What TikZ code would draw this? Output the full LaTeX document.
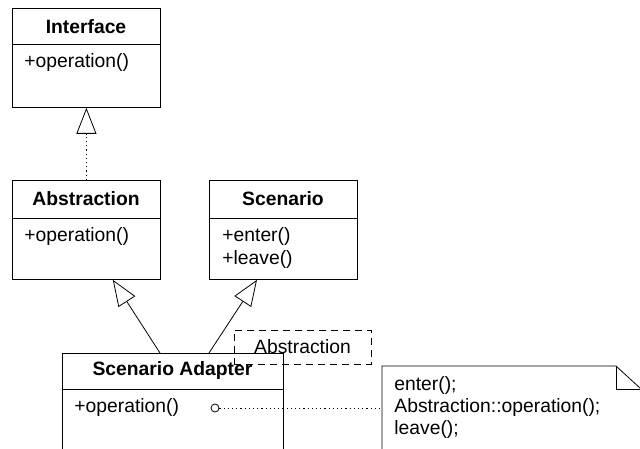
\documentclass[tikz,border=0pt]{standalone}
\usepackage{fontspec}
\setmainfont{Liberation Sans}
\usetikzlibrary{arrows.meta}
\begin{document}
\begin{tikzpicture}[x=1pt,y=-1pt, line width=0.8pt,
  box/.style={draw, inner sep=0pt, anchor=north west},
  ttl/.style={font=\fontsize{19.3}{23}\selectfont\bfseries, inner sep=0pt},
  mem/.style={font=\fontsize{19.3}{23}\selectfont, inner sep=0pt, anchor=west},
  gen/.style={-{Triangle[open,length=26pt,width=20pt]}},
  dots/.style={dash pattern=on 1.2pt off 3pt},
  param/.style={draw, dash pattern=on 7pt off 5pt, inner sep=0pt,
    minimum width=137pt, minimum height=34pt, font=\fontsize{19.3}{23}\selectfont}]
\useasboundingbox (0,0) rectangle (640,449);
\clip (0,0) rectangle (640,449);
% Interface
\node[box, minimum width=148pt, minimum height=99pt] (iface) at (12,8) {};
\draw (12,44) -- (160,44);
\node[ttl] (ifacet) at (86,27) {Interface};
\node[mem] (ifacem) at (24,63) {+operation()};
% Abstraction
\node[box, minimum width=148pt, minimum height=99pt] (abs) at (12,180) {};
\draw (12,218) -- (160,218);
\node[ttl] (abst) at (86,199) {Abstraction};
\node[mem] (absm) at (24,237) {+operation()};
% Scenario
\node[box, minimum width=148pt, minimum height=99pt] (scen) at (209,180) {};
\draw (209,218) -- (357,218);
\node[ttl] (scent) at (283,199) {Scenario};
\node[mem] (scenm1) at (222,237) {+enter()};
\node[mem] (scenm2) at (222,260) {+leave()};
% Scenario Adapter
\node[box, minimum width=221pt, minimum height=130pt] (adapt) at (62,353) {};
\draw (62,389) -- (283,389);
\node[ttl] (adaptt) at (172.5,371) {Scenario Adapter};
\node[mem] (adaptm) at (74,408) {+operation()};
\node[circle, draw, minimum size=8pt, inner sep=0pt] (dot) at (215,408) {};
% template parameter
\node[param] (tparam) at (302.5,347) {Abstraction};
% note
\draw (382,470) -- (382,366) -- (616,366) -- (641,389) -- (641,470);
\draw (616,366) -- (616,389) -- (641,389);
\coordinate (noteW) at (382,408);
\node[mem] (n1) at (394,386) {enter();};
\node[mem] (n2) at (394,408) {Abstraction::operation();};
\node[mem] (n3) at (394,430) {leave();};
% connectors
\draw[gen, dots] (abs.north) -- (iface.south);
\draw[gen] ([xshift=98pt]adapt.north west) -- ([xshift=-48pt]abs.south east);
\draw[gen] ([xshift=147pt]adapt.north west) -- ([xshift=48pt]scen.south west);
\draw[dots] (dot.east) -- (noteW);
\end{tikzpicture}
\end{document}
